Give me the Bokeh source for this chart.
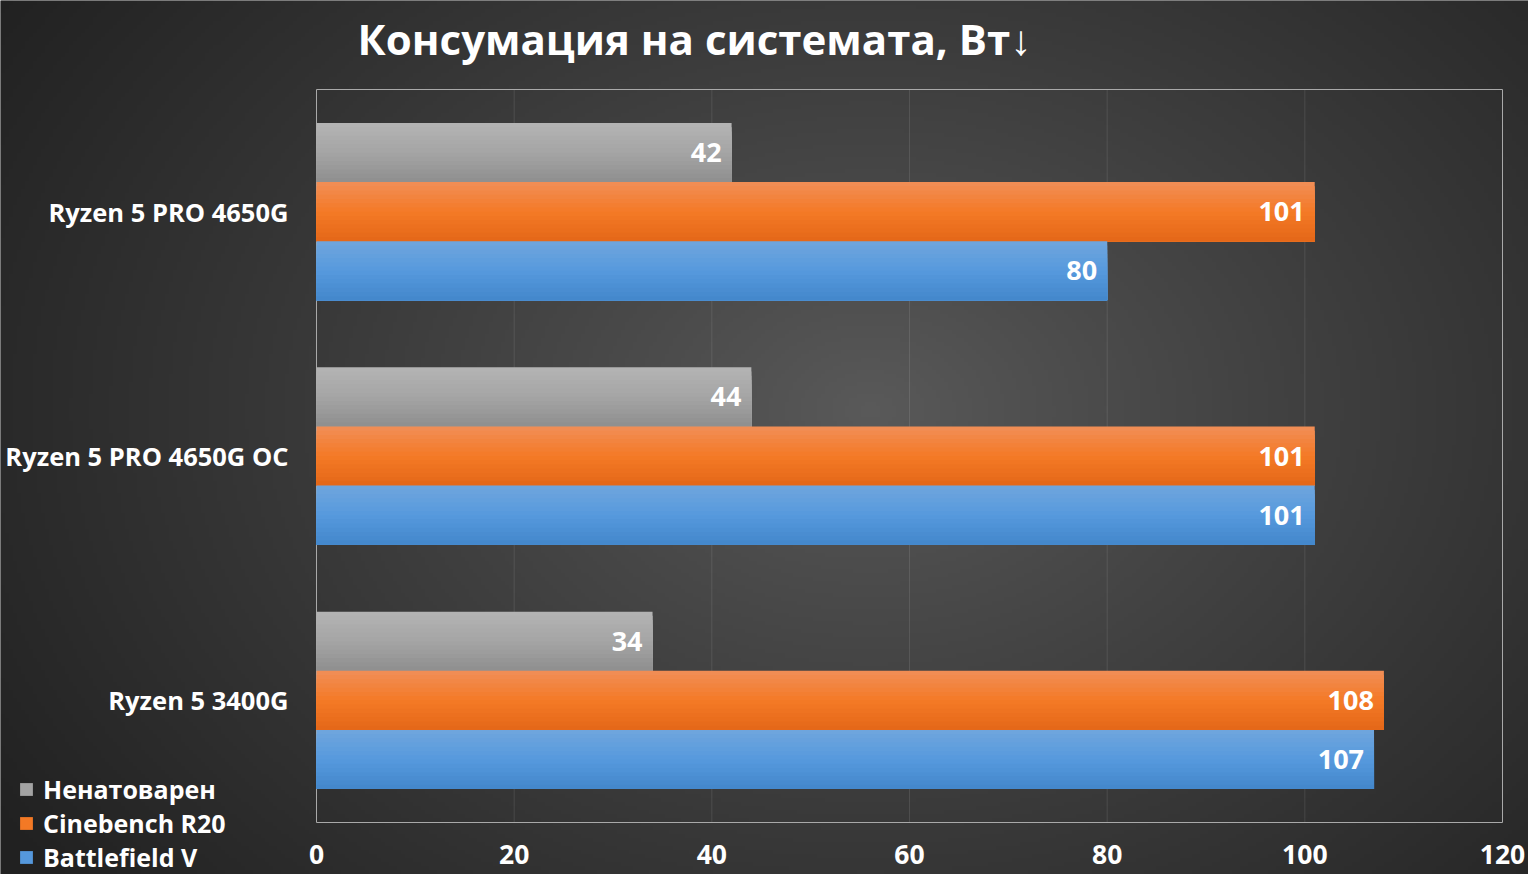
import numpy as np
from bokeh.plotting import figure
from bokeh.models import ColumnDataSource, Range1d, Legend, LegendItem
from bokeh.core.properties import value
from bokeh.embed import file_html
from bokeh.resources import INLINE

# ---- data ----
categories = ["Ryzen 5 PRO 4650G", "Ryzen 5 PRO 4650G OC", "Ryzen 5 3400G"]
series_names = ["Ненатоварен", "Cinebench R20", "Battlefield V"]
idle = [42, 44, 34]
cinebench = [101, 101, 108]
battlefield = [80, 101, 107]
x_ticks = [0, 20, 40, 60, 80, 100, 120]
title_text = "Консумация на системата, Вт↓"

# ---- layout / style (pixels) ----
W, H = 1528, 874
PL, PR, PT, PB = 316, 1502, 89, 822          # plot-area box on the canvas
X0, X1 = 0, 120                               # value axis
Y0, Y1 = -0.5, 2.5                            # category axis (top -> bottom)
FONT = "Open Sans"
BAR_H = 0.242
N_STRIPS = 14
grad = {
    "Ненатоварен": [(180, 180, 180), (165, 165, 165), (142, 142, 142)],
    "Cinebench R20": [(241, 142, 88), (244, 122, 38), (228, 103, 24)],
    "Battlefield V": [(112, 166, 221), (86, 153, 221), (67, 135, 203)],
}
offsets = [-BAR_H, 0.0, BAR_H]

# data ranges extended so that the plot area sits where it does in the picture
kx = (PR - PL) / (X1 - X0)
ky = (PB - PT) / (Y1 - Y0)
x_range = Range1d(X0 - PL / kx, X1 + (W - PR) / kx)
y_range = Range1d(Y1 + (H - PB) / ky, Y0 - PT / ky)

p = figure(width=W, height=H, output_backend="svg", toolbar_location=None,
           x_range=x_range, y_range=y_range, x_axis_type=None, y_axis_type=None,
           min_border=0, title=None)
p.outline_line_color = None
p.grid.visible = False
p.background_fill_color = "#333333"
p.border_fill_color = "#333333"
p.extra_x_ranges = {"px": Range1d(0, W)}
p.extra_y_ranges = {"px": Range1d(0, H)}

# radial background gradient over the whole canvas
nx, ny = W // 4, H // 4
xs = (np.arange(nx) + 0.5) * W / nx
ys = H - (np.arange(ny) + 0.5) * H / ny       # row 0 is the bottom of the canvas
X, Y = np.meshgrid(xs, ys)
r = np.sqrt(((X - 870) / 1000.0) ** 2 + ((Y - 410) / 740.0) ** 2)
gval = np.clip(90 - 55 * r ** 0.9, 33, 92).astype(np.uint32)
img = ((255 << 24) | (gval << 16) | (gval << 8) | gval).astype(np.uint32)
p.image_rgba(image=[img], x=0, y=0, dw=W, dh=H, x_range_name="px", y_range_name="px")

# vertical grid lines and plot-area border
p.segment(x0=x_ticks[1:-1], x1=x_ticks[1:-1], y0=Y0, y1=Y1,
          line_color="#ffffff", line_alpha=0.10, line_width=1)
p.quad(left=X0, right=X1, top=Y0, bottom=Y1, fill_color=None,
       line_color="#a9a9a9", line_width=1)


def lerp3(c, t):
    if t < 0.5:
        a, b, u = c[0], c[1], t / 0.5
    else:
        a, b, u = c[1], c[2], (t - 0.5) / 0.5
    return "#%02x%02x%02x" % tuple(int(round(a[i] + (b[i] - a[i]) * u)) for i in range(3))


legend_items = []
all_vals = [idle, cinebench, battlefield]
for si, (name, vals) in enumerate(zip(series_names, all_vals)):
    ys_, rights, hs, cols = [], [], [], []
    for ci, v in enumerate(vals):
        center = ci + offsets[si]
        top = center - BAR_H / 2
        bot = center + BAR_H / 2
        for k in range(N_STRIPS):
            t = (k + 0.5) / N_STRIPS
            s_top = top + k * BAR_H / N_STRIPS
            ys_.append((s_top + bot) / 2)
            hs.append(bot - s_top)
            rights.append(v)
            cols.append(lerp3(grad[name], t))
    src = ColumnDataSource(dict(y=ys_, right=rights, height=hs, color=cols))
    rr = p.hbar(y="y", left=0, right="right", height="height", fill_color="color",
                line_color=None, source=src)
    legend_items.append(LegendItem(label=name, renderers=[rr], index=N_STRIPS // 2))

    lab = ColumnDataSource(dict(x=vals, y=[ci + offsets[si] for ci in range(len(vals))],
                                t=[str(v) for v in vals]))
    p.text(x="x", y="y", text="t", source=lab, x_offset=-10, text_align="right",
           text_baseline="middle", text_color="white", text_font=value(FONT),
           text_font_style="bold", text_font_size="27px")

# category labels (left of the plot area)
p.text(x=[X0] * len(categories), y=list(range(len(categories))), text=categories,
       x_offset=-28, text_align="right", text_baseline="middle", text_color="white",
       text_font=value(FONT), text_font_style="bold", text_font_size="25.5px")

# value-axis tick labels (below the plot area)
p.text(x=x_ticks, y=[Y1] * len(x_ticks), text=[str(t) for t in x_ticks],
       y_offset=32, text_align="center", text_baseline="middle", text_color="white",
       text_font=value(FONT), text_font_style="bold", text_font_size="26.5px")

# title
p.text(x=[357], y=[H - 38], text=[title_text], x_range_name="px", y_range_name="px",
       text_align="left", text_baseline="alphabetic", text_color="white",
       text_font=value(FONT), text_font_style="bold", text_font_size="42px")

legend = Legend(items=legend_items, location=(18, 0), orientation="vertical",
                background_fill_alpha=0, border_line_color=None,
                label_text_color="white", label_text_font=FONT,
                label_text_font_style="bold", label_text_font_size="25px",
                glyph_width=16, glyph_height=16, label_standoff=9,
                label_height=34, spacing=0, padding=0, margin=0)
p.add_layout(legend, "center")

open("out.html", "w").write(file_html(p, INLINE))
